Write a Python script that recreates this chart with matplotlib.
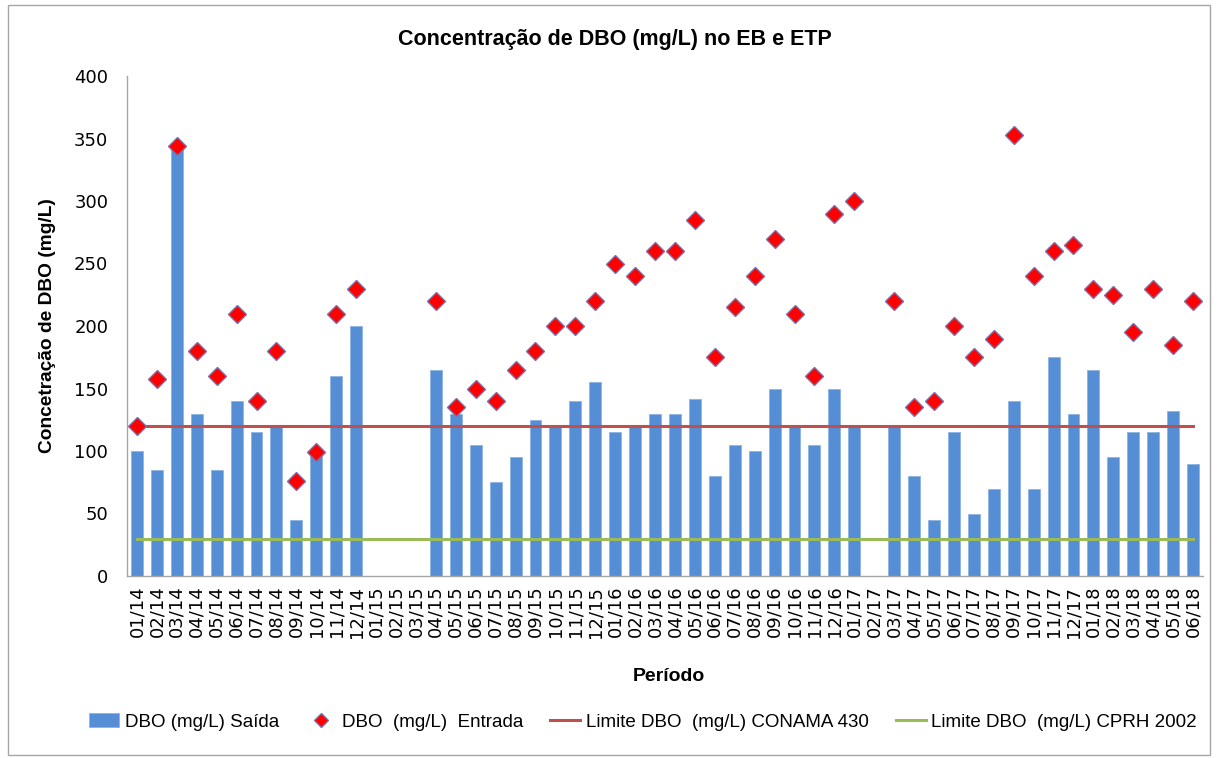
import matplotlib
matplotlib.use("Agg")
import matplotlib.pyplot as plt
import numpy as np

periods = ["01/14","02/14","03/14","04/14","05/14","06/14","07/14","08/14","09/14","10/14","11/14","12/14",
           "01/15","02/15","03/15","04/15","05/15","06/15","07/15","08/15","09/15","10/15","11/15","12/15",
           "01/16","02/16","03/16","04/16","05/16","06/16","07/16","08/16","09/16","10/16","11/16","12/16",
           "01/17","02/17","03/17","04/17","05/17","06/17","07/17","08/17","09/17","10/17","11/17","12/17",
           "01/18","02/18","03/18","04/18","05/18","06/18"]
nan = np.nan
saida = [100,85,345,130,85,140,115,120,45,100,160,200,
         nan,nan,nan,165,130,105,75,95,125,120,140,155,
         115,120,130,130,142,80,105,100,150,120,105,150,
         120,nan,120,80,45,115,50,70,140,70,175,130,
         165,95,115,115,132,90]
entrada = [120,158,344,180,160,210,140,180,76,99,210,230,
           nan,nan,nan,220,135,150,140,165,180,200,200,220,
           250,240,260,260,285,175,215,240,270,210,160,290,
           300,nan,220,135,140,200,175,190,353,240,260,265,
           230,225,195,230,185,220]
limite_conama = 120
limite_cprh = 30

text_font = ['Liberation Sans', 'DejaVu Sans']
plt.rcParams['font.family'] = ['DejaVu Sans']
fig = plt.figure(figsize=(12.17, 7.58), dpi=100)
ax = fig.add_axes([127/1217, 1-576/758, (1203-127)/1217, (576-76)/758])

x = np.arange(len(periods))
h1 = ax.bar(x, saida, width=0.6, color='#558ED5', edgecolor='#8DB3E2', linewidth=0.6,
            label='DBO (mg/L) Saída', zorder=2)
h2, = ax.plot(x, entrada, linestyle='none', marker='D', markersize=9, color='#FF0000',
              markeredgecolor='#7F6FA8', markeredgewidth=1.0, label='DBO  (mg/L)  Entrada', zorder=4)
h3, = ax.plot([x[0], x[-1]], [limite_conama]*2, color='#C0504D', linewidth=2.2,
              label='Limite DBO  (mg/L) CONAMA 430', zorder=3)
h4, = ax.plot([x[0], x[-1]], [limite_cprh]*2, color='#9BBB59', linewidth=2.2,
              label='Limite DBO  (mg/L) CPRH 2002', zorder=3)

ax.set_xlim(-0.5, len(periods)-0.5)
ax.set_ylim(0, 400)
ax.set_yticks(np.arange(0, 401, 50))
ax.set_xticks(x)
ax.set_xticklabels(periods, rotation=90, fontsize=13)
ax.tick_params(axis='y', labelsize=13, length=0, pad=13.5)
ax.tick_params(axis='x', length=0, pad=7)
for s in ['top', 'right']:
    ax.spines[s].set_visible(False)
for s in ['left', 'bottom']:
    ax.spines[s].set_color('#A6A6A6')
    ax.spines[s].set_linewidth(1)

fig.text(615/1217, 1 - 40/758, 'Concentração de DBO (mg/L) no EB e ETP',
         fontsize=15.5, fontweight='bold', family=text_font, ha='center', va='center')
ax.set_ylabel('Concetração de DBO (mg/L)', fontsize=13.8, fontweight='bold', family=text_font)
ax.yaxis.set_label_coords((56-127)/1076, 0.5)
ax.set_xlabel('Período', fontsize=14, fontweight='bold', family=text_font)
ax.xaxis.set_label_coords((669-127)/1076, (576-668)/500)

leg = fig.legend(handles=[h1, h2, h3, h4], loc='center', bbox_to_anchor=(643/1217, 1-722/758),
                 ncol=4, frameon=False, prop={'family': text_font, 'size': 13.5},
                 handlelength=1.6, columnspacing=1.45, handletextpad=0.3, markerscale=0.8)

border = plt.Rectangle((8/1217, 0.004), (1210-8)/1217, 0.99, transform=fig.transFigure,
                       fill=False, edgecolor='#A6A6A6', linewidth=1)
fig.patches.append(border)

fig.savefig('out.png', dpi=100)
